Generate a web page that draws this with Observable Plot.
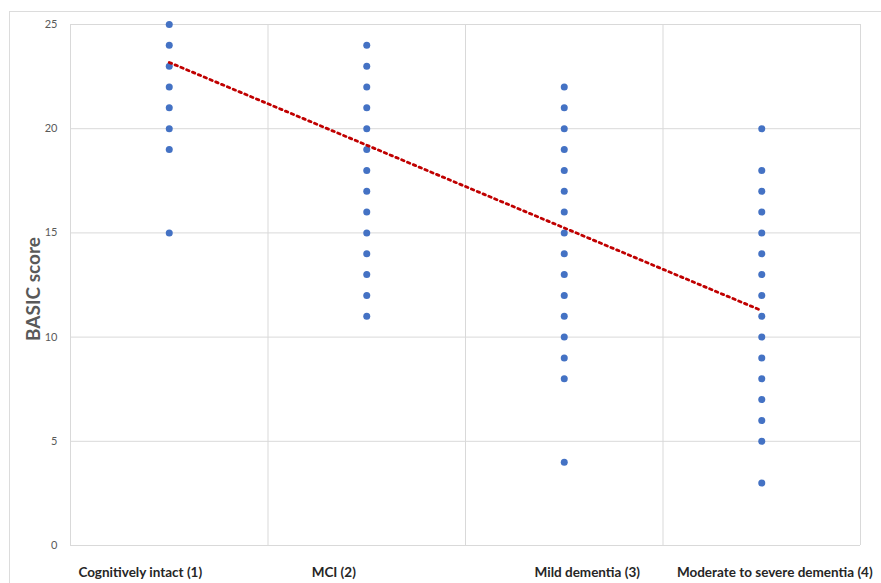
<!DOCTYPE html>
<html>
<head>
<meta charset="utf-8">
<script src="https://cdn.jsdelivr.net/npm/d3@7"></script>
<script src="https://cdn.jsdelivr.net/npm/@observablehq/plot@0.6"></script>
<style>
  html, body { margin: 0; padding: 0; background: #fff; }
  #wrap { position: relative; width: 881px; height: 583px; overflow: hidden; }
  #border { position: absolute; left: 9px; top: 11px; width: 880px; height: 580px; border: 1px solid #dcdcdc; box-sizing: border-box; }
  #chart { position: absolute; left: 0; top: 0; }
</style>
</head>
<body>
<div id="wrap"><div id="border"></div><div id="chart"></div></div>
<script>
const categories = ["Cognitively intact (1)", "MCI (2)", "Mild dementia (3)", "Moderate to severe dementia (4)"];
const groupCodes = [1, 2, 3, 4];
const intactScores = [25, 24, 23, 22, 21, 20, 19, 15];
const mciScores = [24, 23, 22, 21, 20, 19, 18, 17, 16, 15, 14, 13, 12, 11];
const mildScores = [22, 21, 20, 19, 18, 17, 16, 15, 14, 13, 12, 11, 10, 9, 8, 4];
const moderateScores = [20, 18, 17, 16, 15, 14, 13, 12, 11, 10, 9, 8, 7, 6, 5, 3];
const trendX = [1, 4];
const trendY = [23.18, 11.27];
const yTicks = [0, 5, 10, 15, 20, 25];
const xGrid = [0.5, 1.5, 2.5, 3.5, 4.5];

const groups = [intactScores, mciScores, mildScores, moderateScores];
const points = groups.flatMap((vals, i) => vals.map(v => ({group: groupCodes[i], score: v})));
const trend = trendX.map((x, i) => ({x, y: trendY[i]}));
const labels = categories.map((c, i) => ({group: groupCodes[i], label: c}));

const font = "Lato, 'Open Sans', sans-serif";
const labelOffsets = [-29, -33, 23, 13];

const chart = Plot.plot({
  width: 881,
  height: 583,
  marginLeft: 70,
  marginRight: 21,
  marginTop: 24,
  marginBottom: 38,
  style: {fontFamily: font, background: "transparent", overflow: "visible"},
  x: {domain: [0.5, 4.5], axis: null},
  y: {domain: [0, 25], axis: null},
  marks: [
    Plot.ruleX(xGrid, {stroke: "#d9d9d9", strokeWidth: 1}),
    Plot.ruleY(yTicks, {stroke: "#d9d9d9", strokeWidth: 1}),
    Plot.axisY(yTicks, {tickSize: 0, tickPadding: 13, fontSize: 11, fill: "#595959", label: null}),
    Plot.text(["BASIC score"], {frameAnchor: "left", dx: -37, dy: 4, rotate: -90, textAnchor: "middle", fontSize: 19, fontWeight: "bold", fill: "#595959"}),
    Plot.dot(points, {x: "group", y: "score", r: 3.5, fill: "#4472C4", stroke: "none"}),
    Plot.line(trend, {x: "x", y: "y", stroke: "#C00000", strokeWidth: 2.8, strokeDasharray: "2.5,3.8"}),
    ...labels.map((d, i) => Plot.text([d], {x: "group", text: "label", frameAnchor: "bottom", dy: 27, dx: labelOffsets[i], fontSize: 13.5, fontWeight: "bold", fill: "#262626", lineAnchor: "middle"}))
  ]
});
document.getElementById("chart").appendChild(chart);
</script>
</body>
</html>
